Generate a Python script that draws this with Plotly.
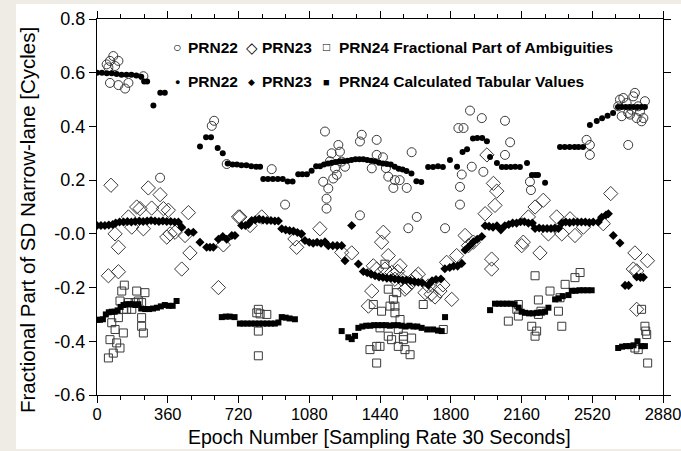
import plotly.graph_objects as go

# ---------------- data (epoch, value) ----------------
prn22_calc_x = [0,25,50,75,100,125,150,175,200,225,240,255,287,322,345,
                524,555,580,614,640,665,690,712,735,760,785,810,830,
                846,870,895,920,945,970,995,1024,1045,1068,1092,1115,1135,1155,1175,1195,1215,1235,1255,1275,1295,1315,1335,1355,1375,1395,1415,1435,1455,1475,1495,1515,1535,1555,1575,1600,1625,1650,
                1685,1710,1735,1760,1796,1832,1860,1883,1913,1935,1960,1984,2000,2035,2060,2082,2105,2128,2152,2188,2213,2230,2244,2280,
                2356,2380,2405,2430,2450,2473,2508,2543,2570,2598,2626,2651,2670,2690,2710,2730,2750,2770,2788]
prn22_calc_y = [0.600,0.600,0.598,0.598,0.595,0.592,0.592,0.592,0.590,0.585,0.567,0.567,0.478,0.525,0.525,
                0.325,0.360,0.360,0.320,0.300,0.262,0.258,0.258,0.255,0.255,0.252,0.250,0.250,
                0.204,0.204,0.204,0.204,0.204,0.195,0.195,0.222,0.222,0.222,0.235,0.252,0.252,0.258,0.262,0.265,0.268,0.270,0.270,0.272,0.275,0.278,0.278,0.278,0.275,0.272,0.270,0.265,0.262,0.260,0.258,0.250,0.242,0.240,0.234,0.225,0.196,0.193,
                0.249,0.249,0.252,0.249,0.275,0.250,0.305,0.315,0.355,0.357,0.357,0.345,0.286,0.264,0.249,0.249,0.249,0.250,0.249,0.264,0.219,0.219,0.219,0.190,
                0.323,0.323,0.323,0.323,0.323,0.323,0.405,0.420,0.430,0.440,0.450,0.472,0.472,0.472,0.472,0.472,0.472,0.472,0.472]

prn23_calc_x = [0,20,40,60,80,95,115,135,155,175,195,215,235,255,275,295,315,335,355,375,395,414,431,465,490,524,558,575,592,618,640,660,686,
                702,736,755,770,787,805,825,845,865,885,905,923,940,960,980,1000,1020,1041,1058,1080,1100,1120,1140,1160,1177,1200,1222,1245,1262,1296,1330,
                1355,1375,1395,1415,1435,1455,1475,1495,1515,1535,1555,1575,1595,1615,1635,1655,1686,1705,1725,1750,1770,1795,1815,1835,1856,1873,1895,1915,1935,1958,
                1975,1995,2015,2035,2055,2075,2095,2115,2135,2155,2175,2195,2215,2229,2250,2270,2290,2310,2330,2348,2365,2385,2405,2425,2445,2465,2485,2505,2525,2551,
                2568,2590,2602,2627,2661,2687,2705,2746,2765,2780]
prn23_calc_y = [0.031,0.031,0.031,0.033,0.035,0.040,0.044,0.044,0.046,0.044,0.046,0.048,0.046,0.048,0.050,0.048,0.046,0.048,0.046,0.046,0.044,0.044,0.025,0.006,0.006,-0.031,-0.050,-0.050,-0.050,-0.020,-0.010,-0.020,-0.006,
                -0.006,0.031,0.031,0.035,0.050,0.052,0.055,0.052,0.050,0.050,0.048,0.048,0.019,0.015,0.012,0.010,0.005,0.000,-0.025,-0.031,-0.035,-0.031,-0.035,-0.030,-0.044,-0.044,-0.044,-0.044,-0.100,0.031,-0.112,
                -0.140,-0.145,-0.150,-0.156,-0.160,-0.162,-0.165,-0.165,-0.168,-0.170,-0.172,-0.172,-0.175,-0.178,-0.180,-0.182,-0.190,-0.175,-0.170,-0.168,-0.130,-0.125,-0.120,-0.120,-0.110,-0.060,-0.045,-0.030,-0.020,-0.010,
                0.030,0.028,0.025,0.030,0.015,0.030,0.035,0.040,0.040,0.045,0.045,0.040,0.040,0.020,0.022,0.020,0.020,0.020,0.022,0.020,0.040,0.044,0.042,0.044,0.044,0.044,0.044,0.042,0.044,0.044,
                0.062,0.070,0.075,-0.006,-0.034,-0.192,-0.192,-0.160,-0.162,-0.162]

prn24_calc_x = [0,15,30,45,60,75,90,105,120,135,150,165,180,195,210,225,245,265,285,305,325,345,365,385,405,
                635,655,675,700,727,745,765,785,805,825,845,865,885,905,923,940,960,980,1007,
                1245,1279,1296,1313,1330,1350,1370,1390,1410,1430,1450,1470,1490,1510,1530,1550,1570,1590,1610,1630,1652,1680,1710,1735,1754,1771,
                2000,2025,2045,2065,2085,2105,2125,2145,2161,2178,2198,2218,2240,2260,2280,2297,2331,2350,2370,2399,2416,2435,2455,2475,2495,2517,
                2652,2672,2692,2712,2730,2750,2770,2788]
prn24_calc_y = [-0.320,-0.320,-0.318,-0.300,-0.292,-0.290,-0.290,-0.285,-0.272,-0.265,-0.262,-0.262,-0.262,-0.265,-0.262,-0.278,-0.280,-0.280,-0.278,-0.275,-0.270,-0.265,-0.268,-0.268,-0.250,
                -0.310,-0.308,-0.308,-0.310,-0.334,-0.334,-0.334,-0.334,-0.334,-0.334,-0.334,-0.334,-0.334,-0.334,-0.330,-0.310,-0.312,-0.315,-0.318,
                -0.362,-0.385,-0.392,-0.380,-0.350,-0.345,-0.342,-0.342,-0.340,-0.340,-0.340,-0.340,-0.342,-0.340,-0.340,-0.342,-0.345,-0.342,-0.345,-0.345,-0.350,-0.356,-0.356,-0.360,-0.362,-0.310,
                -0.284,-0.260,-0.260,-0.260,-0.260,-0.260,-0.262,-0.275,-0.290,-0.294,-0.296,-0.296,-0.294,-0.292,-0.290,-0.275,-0.244,-0.240,-0.232,-0.228,-0.212,-0.212,-0.210,-0.210,-0.210,-0.210,
                -0.425,-0.420,-0.418,-0.418,-0.415,-0.400,-0.418,-0.418]

prn22_frac_x = [49,58,66,83,92,109,66,109,143,160,236,584,596,660,321,889,957,1160,1168,1168,1177,1151,1194,1228,1236,1245,1211,1202,1262,1185,1220,
                1338,1347,1338,1423,1398,1423,1455,1470,1482,1516,1508,1576,1540,1601,1627,1584,1771,1847,1847,1856,1839,1865,1898,1907,1958,1966,2076,2102,2076,
                2203,2208,2491,2508,2508,2703,2652,2661,2678,2695,2703,2712,2729,2737,2754,2763,2771,2780,2788,2720,2746,2670]
prn22_frac_y = [0.631,0.620,0.644,0.662,0.625,0.644,0.562,0.554,0.541,0.562,0.587,0.402,0.421,0.260,0.209,0.241,0.109,0.381,0.131,0.094,0.169,0.194,0.300,0.331,0.306,0.269,0.244,0.206,0.250,0.270,0.220,
                0.344,0.369,0.069,0.350,0.244,0.294,0.285,0.245,0.213,0.200,0.171,0.171,0.200,0.304,0.063,0.021,0.021,0.175,0.109,0.221,0.394,0.394,0.459,0.250,0.431,0.231,0.421,0.341,0.294,
                0.194,0.163,0.350,0.331,0.294,0.331,0.475,0.500,0.506,0.487,0.450,0.444,0.512,0.525,0.475,0.456,0.419,0.431,0.494,0.462,0.431,0.438]

prn23_frac_x = [71,92,109,58,109,160,177,202,219,236,261,321,278,338,363,355,372,397,448,465,473,431,618,643,720,
                727,779,838,1007,1016,1134,1245,1296,1398,1381,1406,1423,
                1457,1448,1482,1465,1499,1516,1542,1550,1567,1601,1635,1669,1686,1745,1805,1779,1830,1873,1890,1915,1975,1984,2017,2034,2025,2008,2008,
                1530,1575,1620,1700,1720,1760,
                2161,2169,2195,2229,2271,2254,2297,2339,2365,2407,2432,2475,2576,2614,2737,2729,2746,2801,2746]
prn23_frac_y = [0.181,0.000,-0.050,-0.156,-0.141,0.063,0.025,0.100,0.094,0.019,0.171,0.146,0.096,0.094,0.088,-0.012,0.000,0.006,-0.006,0.079,-0.071,-0.131,-0.200,-0.041,0.063,
                0.063,0.031,0.063,-0.019,-0.050,0.019,-0.069,-0.071,-0.213,-0.269,-0.119,-0.131,
                0.006,-0.031,-0.081,-0.131,-0.144,-0.169,-0.119,-0.169,-0.206,-0.181,-0.150,-0.219,-0.194,-0.213,-0.244,-0.106,-0.081,-0.006,-0.044,-0.031,0.075,0.294,0.188,0.159,0.106,-0.094,-0.131,
                -0.140,-0.200,-0.160,-0.225,-0.235,-0.190,
                -0.044,-0.031,0.063,0.100,0.125,-0.071,0.000,0.063,0.000,0.056,-0.006,0.025,0.038,0.150,-0.071,-0.131,-0.138,-0.100,-0.281]

prn24_frac_x = [58,66,92,83,117,100,134,75,109,117,126,139,151,160,194,210,202,227,244,227,227,236,177,134,
                821,830,864,821,821,813,
                1406,1389,1423,1423,1465,1448,1440,1440,1482,1491,1508,1516,1482,1499,1533,1533,1559,1567,1542,1559,1593,1601,1660,1762,1525,1516,
                2093,2136,2144,2144,2212,2229,2237,2229,2246,2246,2259,2305,2348,2365,2382,2432,2458,2356,
                2771,2754,2788,2792,2797,2802,2737]
prn24_frac_y = [-0.462,-0.394,-0.356,-0.444,-0.425,-0.406,-0.369,-0.331,-0.312,-0.250,-0.213,-0.191,-0.281,-0.256,-0.256,-0.250,-0.213,-0.256,-0.219,-0.312,-0.344,-0.369,-0.281,-0.281,
                -0.281,-0.298,-0.300,-0.362,-0.454,-0.294,
                -0.263,-0.431,-0.419,-0.481,-0.113,-0.288,-0.350,-0.419,-0.206,-0.269,-0.244,-0.294,-0.381,-0.394,-0.356,-0.419,-0.394,-0.431,-0.319,-0.381,-0.450,-0.388,-0.263,-0.356,-0.219,-0.269,
                -0.325,-0.281,-0.263,-0.306,-0.344,-0.381,-0.362,-0.156,-0.246,-0.300,-0.288,-0.213,-0.288,-0.344,-0.188,-0.163,-0.144,-0.238,
                -0.281,-0.431,-0.344,-0.362,-0.375,-0.481,-0.425]

x_ticks = [0, 360, 720, 1080, 1440, 1800, 2160, 2520, 2880]
y_ticks = [0.8, 0.6, 0.4, 0.2, 0.0, -0.2, -0.4, -0.6]
y_tick_text = ["0.8", "0.6", "0.4", "0.2", "-0.0", "-0.2", "-0.4", "-0.6"]

# ---------------- figure ----------------
OPEN_C = "#3a3a3a"
fig = go.Figure()

def open_trace(x, y, sym, size):
    return go.Scatter(x=x, y=y, mode="markers", showlegend=False,
                      marker=dict(symbol=sym, size=size, color="rgba(255,255,255,0)",
                                  line=dict(color=OPEN_C, width=1)))

def filled_trace(x, y, sym, size):
    return go.Scatter(x=x, y=y, mode="markers", showlegend=False,
                      marker=dict(symbol=sym, size=size, color="black",
                                  line=dict(width=0)))

fig.add_trace(open_trace(prn22_frac_x, prn22_frac_y, "circle", 9))
fig.add_trace(open_trace(prn23_frac_x, prn23_frac_y, "diamond", 11))
fig.add_trace(open_trace(prn24_frac_x, prn24_frac_y, "square", 8))
fig.add_trace(filled_trace(prn22_calc_x, prn22_calc_y, "circle", 6))
fig.add_trace(filled_trace(prn23_calc_x, prn23_calc_y, "diamond", 7))
fig.add_trace(filled_trace(prn24_calc_x, prn24_calc_y, "square", 6))

FONT = "Liberation Sans, Arial, sans-serif"
L, R, T, B = 97, 18, 19, 56
W, H = 681, 451
pw, ph = W - L - R, H - T - B

def px(xp):
    return (xp - L) / pw

def py(yp):
    return (H - B - yp) / ph

fig.add_shape(type="rect", xref="paper", yref="paper", layer="below",
              x0=px(16), x1=px(W + 2), y0=py(449), y1=py(4),
              fillcolor="white", line=dict(width=0))

axis_common = dict(showline=True, linecolor="black", linewidth=1.3, mirror="ticks",
                   ticks="outside", ticklen=7, tickwidth=1.2, tickcolor="black",
                   showgrid=False, zeroline=False, ticklabeloverflow="allow")

fig.update_xaxes(range=[0, 2880], tickvals=x_ticks, ticktext=[str(v) for v in x_ticks],
                 ticklabelstandoff=-3,
                 tickfont=dict(family=FONT, size=16.5, color="black"),
                 minor=dict(dtick=120, tick0=0, ticks="outside", ticklen=4, tickwidth=1.1,
                            tickcolor="black", showgrid=False),
                 **axis_common)
fig.update_yaxes(range=[-0.6, 0.8], tickvals=y_ticks, ticktext=y_tick_text,
                 tickfont=dict(family=FONT, size=18, color="black"), **axis_common)

ann = []
ann.append(dict(text="Epoch Number [Sampling Rate 30 Seconds]", x=px(379), y=py(437),
                xref="paper", yref="paper", showarrow=False, xanchor="center", yanchor="middle",
                font=dict(family=FONT, size=19.5, color="black")))
ann.append(dict(text="Fractional Part of SD Narrow-lane [Cycles]", x=px(28), y=py(220),
                xref="paper", yref="paper", showarrow=False, xanchor="center", yanchor="middle",
                textangle=-90, font=dict(family=FONT, size=20.5, color="black")))

LEG = 15.5
def leg(text, xl, yl, size=LEG, bold=True):
    t = "<b>" + text + "</b>" if bold else text
    ann.append(dict(text=t, x=px(xl), y=py(yl), xref="paper", yref="paper", showarrow=False,
                    xanchor="left", yanchor="middle",
                    font=dict(family=FONT, size=size, color="black")))

y1, y2 = 47, 82
leg("○", 171, y1, 14, False)
leg("PRN22", 186, y1)
leg("◇", 244, y1, 15, False)
leg("PRN23", 260, y1)
leg("□", 321, y1, 12, False)
leg("PRN24 Fractional Part of Ambiguities", 337, y1)
leg("●", 173, y2, 9, False)
leg("PRN22", 186, y2)
leg("◆", 246, y2, 9, False)
leg("PRN23", 260, y2)
leg("■", 321, y2, 11, False)
leg("PRN24 Calculated Tabular Values", 337, y2)

fig.update_layout(width=W, height=H, margin=dict(l=L, r=R, t=T, b=B, autoexpand=False),
                  paper_bgcolor="#eeece4", plot_bgcolor="white",
                  annotations=ann, font=dict(family=FONT, color="black"))

fig.write_html("out.html")
